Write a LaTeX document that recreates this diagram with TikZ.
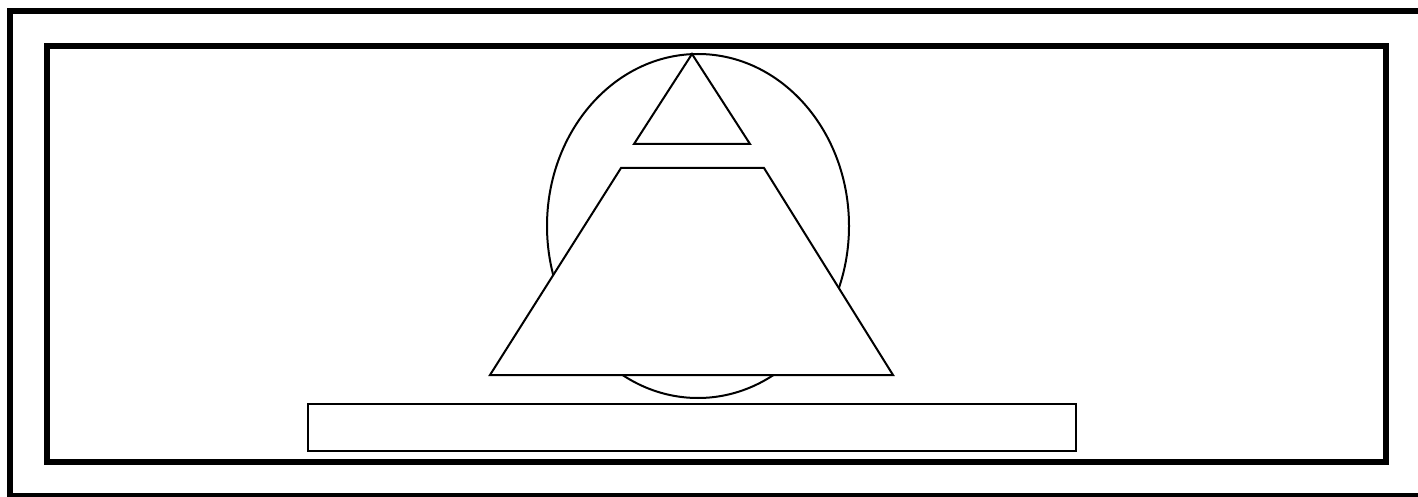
\documentclass[tikz,border=0pt]{standalone}
\begin{document}
\begin{tikzpicture}[x=1pt,y=-1pt,
  frame/.style={draw=black,line width=6pt},
  figline/.style={draw=black,line width=2pt,line join=miter},
  thinbox/.style={draw=black,line width=1.2pt}]
\useasboundingbox (0,0) rectangle (1418,497);
\begin{scope}
\clip (0,0) rectangle (1418,497);
\draw[frame] (10,11) rectangle (1425,496);
\end{scope}
\draw[frame] (47,46) rectangle (1386,462);
\draw[figline] (698,226) ellipse [x radius=151, y radius=172];
\filldraw[figline,fill=white] (490,375) -- (621,168) -- (764,168) -- (893,375) -- cycle;
\draw[figline] (692,54) -- (634,144) -- (750,144) -- cycle;
\draw[thinbox] (308,404) rectangle (1076,451);
\end{tikzpicture}
\end{document}
